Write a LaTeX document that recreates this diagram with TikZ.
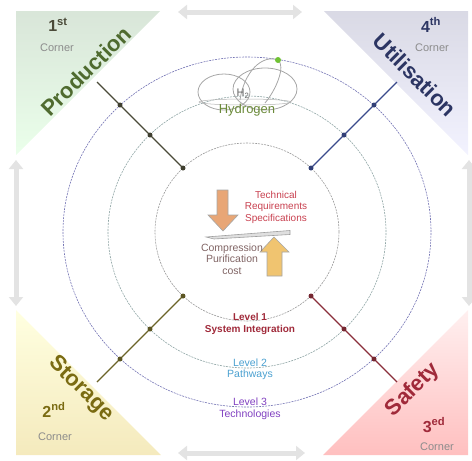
\documentclass[tikz,border=0pt]{standalone}
\usepackage{fontspec}
\setmainfont{Liberation Sans}
\usetikzlibrary{arrows.meta,positioning,calc}

\definecolor{prodtext}{HTML}{4F6B2F}
\definecolor{utiltext}{HTML}{2C3563}
\definecolor{stortext}{HTML}{7A6B12}
\definecolor{safetext}{HTML}{A02A3A}
\definecolor{prodspoke}{HTML}{4A4A38}
\definecolor{utilspoke}{HTML}{3A4A8C}
\definecolor{storspoke}{HTML}{6B6428}
\definecolor{safespoke}{HTML}{8A2E3A}
\definecolor{ringone}{HTML}{9A9A9A}
\definecolor{ringtwo}{HTML}{8FA5A5}
\definecolor{ringthree}{HTML}{7474B4}
\definecolor{levelone}{HTML}{A02A3A}
\definecolor{leveltwo}{HTML}{4AA0D0}
\definecolor{levelthree}{HTML}{8040C0}
\definecolor{reqtext}{HTML}{C8404F}
\definecolor{costtext}{HTML}{806464}
\definecolor{h2text}{HTML}{6B8A3A}
\definecolor{downfill}{HTML}{E8A676}
\definecolor{upfill}{HTML}{F0C470}

\tikzset{
  ring/.style={line width=0.6pt, dash pattern=on 2pt off 1pt},
  spoke/.style={line width=1.3pt},
  knot/.style={circle, inner sep=0pt, minimum size=5pt},
  cornername/.style={font=\fontsize{22}{22}\selectfont\bfseries, inner sep=0pt},
  cornerno/.style={font=\fontsize{16}{16}\selectfont\bfseries, inner sep=0pt},
  cornerword/.style={font=\fontsize{11}{11}\selectfont, text=gray!90, inner sep=0pt},
  edgearrow/.style={line width=5pt, draw=gray!22,
    {Triangle[width=14pt,length=9pt]}-{Triangle[width=14pt,length=9pt]}},
  levelword/.style={font=\fontsize{10}{10}\selectfont\bfseries, inner sep=1pt},
  levelname/.style={font=\fontsize{10.5}{10.5}\selectfont, inner sep=1pt},
  blockarrow/.style={draw=gray!70, line width=0.6pt},
}

\begin{document}
\begin{tikzpicture}[x=1pt,y=1pt]
    \useasboundingbox (0,0) rectangle (472,-461);

    % Define the corner triangles
    \shade[top color=green!20!gray!25, bottom color=green!8!white] (16,-11) -- (160,-11) -- (16,-155) -- cycle;
    \shade[top color=blue!18!gray!25, bottom color=blue!5!white] (324,-11) -- (468,-11) -- (468,-155) -- cycle;
    \shade[bottom color=yellow!45!brown!30, top color=yellow!12!white] (16,-310) -- (16,-455) -- (161,-455) -- cycle;
    \shade[bottom color=red!25!white, top color=red!6!white] (468,-310) -- (468,-455) -- (323,-455) -- cycle;

    % Define the arrows on the edges
    \coordinate (top-l) at (178,-12);
    \coordinate (top-r) at (302,-12);
    \coordinate (bot-l) at (178,-453);
    \coordinate (bot-r) at (305,-453);
    \coordinate (lft-t) at (16,-160);
    \coordinate (lft-b) at (16,-306);
    \coordinate (rgt-t) at (469,-160);
    \coordinate (rgt-b) at (469,-306);
    \draw[edgearrow] (top-l) -- (top-r);
    \draw[edgearrow] (bot-l) -- (bot-r);
    \draw[edgearrow] (lft-t) -- (lft-b);
    \draw[edgearrow] (rgt-t) -- (rgt-b);

    % Define the rings
    \coordinate (c) at (247,-232);
    \draw[ring, ringone] (c) ellipse[x radius=92pt, y radius=89pt];
    \draw[ring, ringtwo] (c) ellipse[x radius=139pt, y radius=136pt];
    \draw[ring, ringthree] (c) ellipse[x radius=184pt, y radius=175pt];

    % Define the spokes with their knots
    \foreach \sx/\sy/\col/\nm in {-1/1/prodspoke/prod, 1/1/utilspoke/util, -1/-1/storspoke/stor, 1/-1/safespoke/safe} {
        \coordinate (\nm-out) at ($(c)+(\sx*150,\sy*150)$);
        \coordinate (\nm-in) at ($(c)+(\sx*64,\sy*64)$);
        \draw[spoke, \col] (\nm-out) -- (\nm-in);
        \node[knot, fill=\col!85!black] (\nm-1) at (\nm-in) {};
        \node[knot, fill=\col!85!black] (\nm-2) at ($(c)+(\sx*97,\sy*97)$) {};
        \node[knot, fill=\col!85!black] (\nm-3) at ($(c)+(\sx*127,\sy*127)$) {};
    }

    % Corner names
    \node[cornername, text=prodtext, rotate=45] (prod) at (86,-71) {Production};
    \node[cornername, text=utiltext, rotate=-45] (util) at (415,-75) {Utilisation};
    \node[cornername, text=stortext, rotate=-45] (stor) at (81,-389) {Storage};
    \node[cornername, text=safetext, rotate=45] (safe) at (413,-390) {Safety};

    \node[cornerno, text=prodspoke] (first) at (58,-25) {1\textsuperscript{st}};
    \node[cornerword] (first-c) at (57,-48) {Corner};
    \node[cornerno, text=utiltext] (fourth) at (431,-25) {4\textsuperscript{th}};
    \node[cornerword] (fourth-c) at (432,-48) {Corner};
    \node[cornerno, text=stortext] (second) at (54,-410) {2\textsuperscript{nd}};
    \node[cornerword] (second-c) at (55,-437) {Corner};
    \node[cornerno, text=safetext] (third) at (434,-425) {3\textsuperscript{ed}};
    \node[cornerword] (third-c) at (437,-447) {Corner};

    % Hydrogen symbol
    \draw[gray!70, line width=0.8pt] (224,-92) ellipse[x radius=26pt, y radius=18pt];
    \draw[gray!70, line width=0.8pt] (265,-89) ellipse[x radius=32pt, y radius=21pt];
    \draw[gray!60, line width=0.5pt] (245,-102) ellipse[x radius=46pt, y radius=3pt];
    \draw[gray!70, line width=0.8pt] (240,-100) .. controls (244,-72) and (262,-54) .. (278,-60)
        .. controls (286,-66) and (276,-90) .. (265,-103);
    \node[knot, fill=green!40!olive!80, minimum size=6pt] (h2-dot) at (278,-60) {};
    \node[font=\fontsize{11}{11}\selectfont, text=gray!80!black, inner sep=0pt] (h2) at (243,-94) {H\textsubscript{2}};
    \node[font=\fontsize{13}{13}\selectfont, text=h2text, inner sep=0pt] (hydrogen) at (247,-110) {Hydrogen};

    % Block arrows in the middle
    \draw[blockarrow, fill=downfill] (217,-190) -- (228,-190) -- (228,-215) -- (238,-215)
        -- (223,-231) -- (208,-215) -- (217,-215) -- cycle;
    \draw[blockarrow, fill=upfill] (267,-276) -- (282,-276) -- (282,-252) -- (289,-252)
        -- (274,-237) -- (260,-252) -- (267,-252) -- cycle;
    \draw[gray!75, fill=gray!25, line width=0.6pt] (206,-237) -- (290,-230.5) -- (290,-234.5) -- (214,-239) -- cycle;

    \node[font=\fontsize{10}{11.5}\selectfont, text=reqtext, align=center, inner sep=0pt] (req) at (276,-207)
        {Technical\\Requirements\\Specifications};
    \node[font=\fontsize{10.5}{11.5}\selectfont, text=costtext, align=center, inner sep=0pt] (cost) at (232,-259)
        {Compression\\Purification\\cost};

    % Level labels
    \node[levelword, text=levelone, anchor=south] (lvl1) at (250,-322) {Level 1};
    \node[levelword, text=levelone, anchor=north] (lvl1-n) at (250,-324) {System Integration};
    \node[levelname, text=leveltwo, anchor=south] (lvl2) at (250,-368) {Level 2};
    \node[levelname, text=leveltwo, anchor=north] (lvl2-n) at (250,-369) {Pathways};
    \node[levelname, text=levelthree, anchor=south] (lvl3) at (250,-407) {Level 3};
    \node[levelname, text=levelthree, anchor=north] (lvl3-n) at (250,-409) {Technologies};
\end{tikzpicture}
\end{document}
